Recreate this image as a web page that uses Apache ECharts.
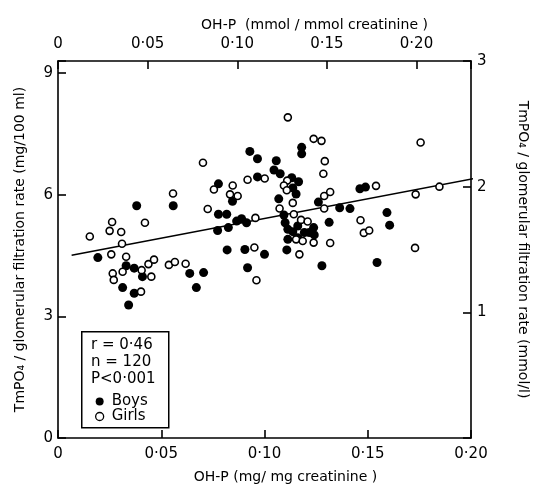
<!DOCTYPE html>
<html>
<head>
<meta charset="utf-8">
<script src="https://cdn.jsdelivr.net/npm/echarts@6/dist/echarts.min.js"></script>
<style>html,body{margin:0;padding:0;background:#fff}#c{width:538px;height:489px}</style>
</head>
<body>
<div id="c"></div>
<script>
// OH-P (mg/mg creatinine) vs TmPO4/GFR (mg/100 ml)
const boysX = [0.0381,0.0558,0.0193,0.0330,0.0369,0.0409,0.0638,0.0705,0.0313,0.0369,0.0342,0.0670,
  0.0929,0.0966,0.1057,0.1046,0.1076,0.0966,0.0777,0.0845,0.1069,0.0777,0.0817,0.0865,0.0889,0.0913,
  0.0825,0.0773,0.0819,0.0905,0.1000,0.0918,0.1180,0.1180,0.1132,0.1165,0.1137,0.1153,0.1094,0.1100,
  0.1113,0.1137,0.1161,0.1193,0.1217,0.1238,0.1241,0.1113,0.1108,0.1161,0.1261,
  0.1313,0.1364,0.1414,0.1462,0.1489,0.1593,0.1606,0.1545,0.1278];
const boysY = [5.73,5.73,4.45,4.25,4.19,3.98,4.06,4.08,3.71,3.57,3.28,3.71,
  7.07,6.89,6.84,6.61,6.52,6.44,6.27,5.84,5.90,5.52,5.52,5.35,5.41,5.31,
  5.19,5.12,4.64,4.65,4.53,4.20,7.17,7.01,6.42,6.32,6.17,6.02,5.50,5.31,
  5.15,5.09,5.23,5.07,5.07,5.19,5.01,4.90,4.64,4.94,5.82,
  5.32,5.68,5.66,6.15,6.19,5.56,5.25,4.33,4.25];
const girlsX = [0.0154,0.0250,0.0262,0.0306,0.0421,0.0557,0.0310,0.0258,0.0330,0.0405,0.0438,0.0465,
  0.0265,0.0270,0.0313,0.0452,0.0537,0.0566,0.0618,0.0402,0.0725,0.0702,
  0.1113,0.1238,0.1276,0.1292,0.1285,0.1001,0.0918,0.1110,0.1094,0.0755,0.0846,0.1108,0.0833,0.0870,
  0.1289,0.1137,0.1073,0.1289,0.1142,0.0956,0.1177,0.1209,0.0951,0.0961,0.1153,0.1185,0.1238,0.1169,0.1318,
  0.1318,0.1540,0.1465,0.1481,0.1507,0.1729,0.1732,0.1756,0.1847];
const girlsY = [4.97,5.11,5.33,5.08,5.31,6.03,4.79,4.53,4.47,4.14,4.29,4.40,
  4.06,3.90,4.10,3.98,4.27,4.34,4.30,3.61,5.65,6.79,
  7.91,7.38,7.33,6.83,6.52,6.40,6.37,6.35,6.23,6.13,6.23,6.11,6.01,5.97,
  5.97,5.80,5.66,5.66,5.52,5.43,5.38,5.34,4.70,3.89,4.90,4.86,4.82,4.53,4.81,
  6.07,6.22,5.37,5.06,5.12,4.69,6.01,7.29,6.20];
const fitX = [0.0066, 0.2014];
const fitY = [4.51, 6.40];
const bottomTicks = [0, 0.05, 0.10, 0.15, 0.20];
const statsLines = ['r = 0·46', 'n = 120', 'P<0·001'];

const FONT = 'DejaVu Sans';
const fmtDec = v => {
  if (Math.abs(v) < 1e-9) return '0';
  const ok = bottomTicks.some(t => Math.abs(t - v) < 1e-6);
  return ok ? v.toFixed(2).replace('.', '·') : '';
};
const zip = (a, b) => a.map((v, i) => [v, b[i]]);
const axisBase = {
  axisLine: { show: true, onZero: false, lineStyle: { color: '#000', width: 1.6 } },
  axisTick: { show: true, inside: true, length: 8, lineStyle: { color: '#000', width: 1.6 } },
  splitLine: { show: false },
  axisLabel: { color: '#000', fontFamily: FONT, fontSize: 15 },
  nameTextStyle: { color: '#000', fontFamily: FONT, fontSize: 14 }
};
const chart = echarts.init(document.getElementById('c'), null, { renderer: 'canvas' });
chart.setOption({
  backgroundColor: '#fff',
  animation: false,
  grid: { left: 58, right: 63, top: 61, bottom: 48 },
  xAxis: [
    Object.assign({}, axisBase, {
      type: 'value', position: 'bottom', min: 0, max: 0.2, interval: 0.05,
      name: 'OH-P (mg/ mg creatinine )', nameLocation: 'middle', nameGap: 32,
      nameTextStyle: Object.assign({}, axisBase.nameTextStyle, { padding: [0, 0, 0, 42] }),
      axisLabel: Object.assign({}, axisBase.axisLabel, { margin: 9, formatter: fmtDec })
    }),
    Object.assign({}, axisBase, {
      type: 'value', position: 'top', min: 0, max: 0.2304, interval: 0.05,
      name: 'OH-P  (mmol / mmol creatinine )', nameLocation: 'middle', nameGap: 29,
      nameTextStyle: Object.assign({}, axisBase.nameTextStyle, { padding: [0, 0, 0, 100] }),
      axisLabel: Object.assign({}, axisBase.axisLabel, { margin: 9, formatter: fmtDec })
    })
  ],
  yAxis: [
    Object.assign({}, axisBase, {
      type: 'value', position: 'left', min: 0, max: 9.3, interval: 3,
      name: 'TmPO₄ / glomerular filtration rate (mg/100 ml)', nameLocation: 'middle', nameGap: 31,
      axisLabel: Object.assign({}, axisBase.axisLabel, { margin: 5,
        formatter: v => (Math.abs(v % 3) < 1e-6 ? String(v) : '') })
    }),
    Object.assign({}, axisBase, {
      type: 'value', position: 'right', min: 0, max: 3, interval: 1,
      name: 'TmPO₄ / glomerular filtration rate (mmol/l)', nameLocation: 'middle', nameGap: 45, nameRotate: -90,
      axisLabel: Object.assign({}, axisBase.axisLabel, { margin: 6,
        formatter: v => (v === 0 ? '' : String(v)) })
    })
  ],
  legend: {
    orient: 'vertical', left: 90, top: 389, itemGap: 0,
    itemWidth: 8, itemHeight: 8,
    textStyle: { color: '#000', fontFamily: FONT, fontSize: 15, lineHeight: 15, padding: [0, 0, 0, 3] },
    data: [
      { name: 'Boys', itemStyle: { color: '#000', opacity: 1 } },
      { name: 'Girls', icon: 'circle', itemStyle: { color: '#fff', borderColor: '#000', borderWidth: 1.3, opacity: 1 } }
    ]
  },
  graphic: [
    { type: 'rect', left: 81, top: 331, shape: { width: 87, height: 96 },
      style: { fill: '#fff', stroke: '#000', lineWidth: 1.5 }, z: 1 },
    { type: 'text', left: 91, top: 337, z: 2,
      style: { text: statsLines.join('\n'), fill: '#000', font: '15px "DejaVu Sans"', lineHeight: 17 } }
  ],
  series: [
    { name: 'Boys', type: 'scatter', data: zip(boysX, boysY), symbol: 'circle', symbolSize: 9,
      itemStyle: { color: '#000', opacity: 1 }, z: 3 },
    { name: 'Girls', type: 'scatter', data: zip(girlsX, girlsY), symbol: 'circle', symbolSize: 7,
      itemStyle: { color: '#fff', borderColor: '#000', borderWidth: 1.6, opacity: 1 }, z: 4 },
    { name: 'fit', type: 'line', data: zip(fitX, fitY), showSymbol: false, symbol: 'none',
      lineStyle: { color: '#000', width: 1.6 }, z: 2 }
  ]
});
</script>
</body>
</html>
